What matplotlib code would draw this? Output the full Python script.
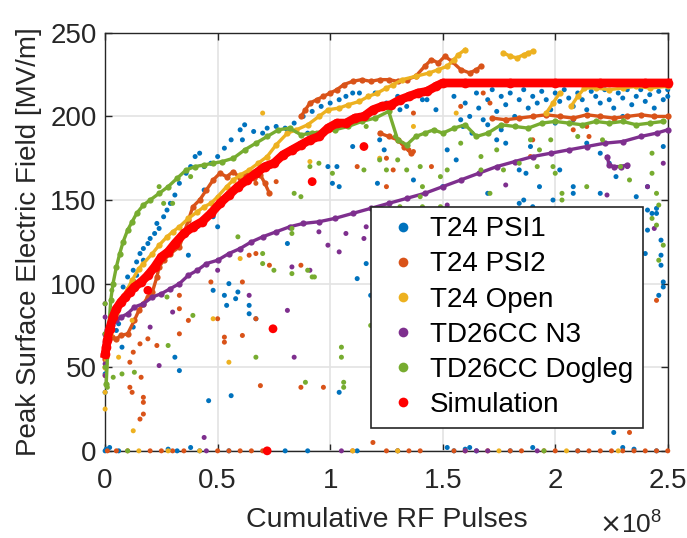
import numpy as np
import matplotlib
matplotlib.use("Agg")
import matplotlib.pyplot as plt
from matplotlib.lines import Line2D
from matplotlib.ticker import FuncFormatter

plt.rcParams['font.family'] = ['Liberation Sans', 'DejaVu Sans']

nan = np.nan

# x values in units of 1e8 pulses, y in MV/m
# --- T24 PSI1 (blue) ---
psi1_x = [0.08, 0.1, 0.125, 0.14, 0.155, 0.17, 0.19, 0.2, 0.22, 0.24, 0.26, 0.275, 0.29, 0.31, 0.33, 0.36, 0.38, 0.4, 0.42, 0.44,
          0.47, 0.5, 0.53, 0.56, 0.6, 0.62, 0.66, 0.7, 0.72, 0.76, 0.8, 0.84, 0.88, 0.92, 0.96, 1.0, 1.04, 1.07, 1.1, 1.13,
          1.17, 1.2,
          0, 0.005, 0.02, 0.06, 0.28, 0.32, 0.38, 0.42, 0.55, 0.8, 0.9, 1.12, 1.3, 1.52, 1.55, 1.6, 1.62, 1.65, 1.8, 1.9,
          2.1, 2.3, 2.35, 2.45, 2.26,
          0, 0, 0.075, 0.06, 0.05, 0.125, 0.31, 0.33, 0.46, 0.56, 0.53, 0.54, 0.55, 0.58, 0.59, 0.64, 0.64, 0.67, 0.81, 1.04,
          1.16, 1.12, 1.18, 0.37, 0.48, 0.5, 0.125, 0.14, 0.17, 0.23, 0.41, 0.44, 0.48, 0.61, 0.99, 1.03, 1.1, 1.22, 1.01, 1.04,
          1.21, 0.9, 0.81,
          2.41, 2.43, 2.45, 2.45, 2.41, 2.47, 2.47, 2.47, 2.48, 2.48, 2.46, 2.4,
          1.89, 2.0, 2.14, 2.24, 2.2, 2.27, 2.02, 1.93, 2.41, 2.36, 2.2, 2.48, 1.9, 2.08, 1.86, 1.87, 1.99, 1.84, 2.08,
          1.52, 1.56, 1.37, 1.5, 1.74, 1.78, 1.84, 1.7, 1.63, 1.59, 1.41, 1.31, 1.24,
          1.25, 1.3, 1.34, 1.38, 1.43, 1.47, 1.55, 1.6, 1.62, 1.65, 1.66, 1.68, 1.7, 1.72, 1.74, 1.76, 1.78, 1.8, 1.82, 1.84,
          1.86, 1.88, 1.9, 1.92, 1.94, 1.96, 1.98, 2.0, 2.02, 2.04, 2.06, 2.08, 2.1, 2.12, 2.14, 2.16, 2.18, 2.2, 2.22, 2.24,
          2.26, 2.28, 2.3, 2.32, 2.34, 2.36, 2.38, 2.4, 2.42, 2.44, 2.46, 2.48, 2.5, 1.7, 1.76, 1.58, 2.08, 2.3, 2.44, 2.5]
psi1_y = [98, 104, 108, 113, 118, 121, 124, 127, 130, 133, 140, 144, 148, 153, 160, 166, 170, 176, 178, 170,
          172, 176, 181, 186, 192, 195, 191, 190, 193, 194, 193, 196, 200, 203, 206, 208, 210, 212, 214, 214,
          212, 214,
          0, 1, 2, 0, 1, 0, 2, 0, 0, 0, 0, 0, 0, 2, 0, 1, 2, 0, 0, 2,
          0, 2, 1, 0, 11,
          46, 35, 62, 76, 72, 74, 56, 48, 30, 33, 93, 87, 100, 91, 95, 87, 82, 79, 124, 35,
          112, 103, 93, 117, 96, 134, 102, 105, 114, 136, 134, 156, 140, 186, 170, 170, 182, 186, 160, 158,
          160, 190, 192,
          144, 142, 142, 145, 132, 126, 117, 111, 101, 98, 93, 118,
          182, 196, 184, 172, 178, 164, 168, 158, 158, 152, 154, 182, 146, 158, 150, 166, 150, 148, 154,
          180, 174, 162, 158, 186, 184, 168, 154, 190, 194, 210, 204, 180,
          208, 212, 206, 214, 210, 204, 212, 208, 200, 214, 205, 198, 210, 216, 203, 212, 207, 214, 200, 210,
          216, 205, 212, 208, 215, 210, 204, 214, 209, 216, 211, 206, 214, 210, 204, 215, 212, 208, 216, 210,
          205, 214, 211, 216, 207, 212, 216, 209, 213, 205, 215, 210, 212, 195, 192, 198, 198, 200, 200, 216]

# --- T24 PSI2 (orange) ---
psi2_track_x = [0, 0.005, 0.01, 0.03, 0.05, 0.07, 0.1, 0.13, 0.15, 0.17, 0.19, 0.21, 0.23, 0.24, 0.26, 0.29, 0.33, 0.35,
                0.37, 0.39, 0.42, 0.45, 0.48, 0.51, 0.54, 0.57, 0.6, 0.63, 0.66, 0.69, 0.71, 0.73, nan,
                0.87, 0.89, 0.91, 0.94, 0.97, 1.0, 1.03, 1.06, 1.1, 1.14, 1.18, 1.22, 1.26, 1.3, 1.34, 1.38, 1.42, 1.45,
                1.48, 1.51, 1.54, 1.58, 1.62, 1.65, 1.67, nan,
                1.22, 1.26, 1.3, 1.33, 1.36, nan,
                1.72, 1.78, 1.84, 1.9, 1.96, 2.02, 2.08, 2.14, 2.2, 2.26, 2.32, 2.38, 2.44, 2.5]
psi2_track_y = [55, 60, 68, 68, 67, 69, 70, 78, 84, 88, 92, 95, 104, 110, 114, 118, 122, 130,
                138, 146, 150, 156, 162, 166, 164, 167, 163, 166, 163, 165, 160, 154, nan,
                200, 204, 208, 210, 212, 214, 216, 219, 221, 222, 221, 222, 222, 221, 222, 224, 230, 234,
                232, 236, 233, 228, 226, 228, 230, nan,
                190, 188, 186, 182, 178, nan,
                199, 198, 199, 200, 201, 200, 199, 201, 200, 199, 200, 201, 200, 200]
psi2_x = [0.11, 0.12, 0.16, 0.17, 0.17, 0.17, 0.155, 0.11, 0.125, 0.155, 0.19, 0.23, 0.33, 0.33, 0.37, 0.33, 0.5, 0.47,
          0.53, 0.53, 0.61, 0.61, 0.67, 0.64, 0.67, 0.73, 0.69, 0.87, 0.97, 0.87, 1.19, 1.25, 0.67, 0.76, 0.94, 1.12,
          1.28, 1.32, 1.35, 1.37, 1.37, 1.58, 1.68, 1.71, 1.78, 1.45, 1.25, 1.9, 2.08, 2.14, 1.89, 2.15, 2.45, 2.33,
          0.01, 0.05, 0.1, 0.2, 0.25, 0.3, 0.35, 0.5, 0.55, 0.6, 0.65, 0.7, 0.72, 1.1, 1.25, 1.3, 1.35, 1.4, 1.55,
          1.6, 1.7, 1.8, 1.85, 1.95, 2.0, 2.1, 2.15, 2.2, 2.25, 2.3, 2.35, 2.4, 2.45, 2.5]
psi2_y = [38, 35, 44, 32, 29, 22, 19, 53, 59, 64, 67, 63, 70, 85, 78, 93, 79, 101,
          68, 65, 69, 101, 118, 117, 79, 111, 39, 38, 38, 111, 5, 175, 160, 161, 190, 170,
          168, 184, 180, 179, 202, 206, 214, 208, 198, 170, 158, 186, 192, 194, 176, 188, 90, 11,
          0, 0, 0, 0, 0, 0, 0, 0, 0, 0, 0, 0, 0, 0, 0, 0, 0, 0, 0,
          0, 0, 0, 0, 0, 0, 0, 0, 0, 0, 0, 0, 0, 0, 0]

# --- T24 Open (yellow) ---
open_track_x = [0, 0.005, 0.01, 0.02, 0.04, 0.05, 0.08, 0.1, 0.12, 0.15, 0.17, 0.21, 0.24, 0.275, 0.3, 0.33, 0.37, 0.41,
                0.44, 0.47, 0.5, 0.54, 0.57, 0.6, 0.64, 0.68, 0.72, 0.76, 0.81, 0.85, 0.9, 0.95, 0.99, 1.04, 1.08,
                1.13, 1.17, 1.21, 1.25, 1.28, 1.32, 1.38, 1.44, 1.48, 1.52, 1.55, 1.57, 1.6, nan,
                1.77, 1.8, 1.83, 1.86, 1.88, 1.9, nan,
                1.96, 1.99, 2.02, nan,
                2.07, 2.1, 2.13, 2.18, 2.24, 2.3, 2.36, 2.42, 2.5]
open_track_y = [50, 56, 62, 70, 78, 82, 92, 97, 102, 109, 112, 118, 123, 128, 131, 134, 139, 143,
                146, 148, 152, 158, 162, 165, 168, 172, 176, 183, 190, 192, 195, 200, 204, 205, 207,
                209, 212, 214, 217, 219, 222, 224, 226, 228, 230, 234, 237, 240, nan,
                238, 236, 235, 237, 238, 239, nan,
                202, 208, 214, nan,
                206, 212, 217, 217, 216, 217, 218, 217, 218]
open_x = [0, 0, 0, 0.005, 0.125, 0.06, 0.55, 0.48, 0.6, 0.12, 0.7, 0.91, 1.22, 1.56, 1.37,
          0.15, 0.28, 0.42, 1.1, 1.3, 1.75, 2.05, 2.28]
open_y = [25, 35, 45, 52, 12, 56, 53, 79, 115, 78, 202, 173, 175, 202, 194,
          0, 0, 0, 0, 0, 0, 0, 0]

# --- TD26CC N3 (purple) ---
n3_track_x = [0, 0.01, 0.03, 0.05, 0.07, 0.1, 0.13, 0.17, 0.21, 0.25, 0.29, 0.33, 0.37, 0.41, 0.45, 0.5, 0.55, 0.6,
              0.65, 0.7, 0.76, 0.82, 0.88, 0.95, 1.02, 1.1, 1.18, 1.26, 1.34, 1.42, 1.5, 1.58, 1.66, 1.74, 1.82,
              1.9, 1.98, 2.06, 2.14, 2.22, 2.3, 2.38, 2.45, 2.5, nan,
              2.23, 2.24, 2.26, 2.29, 2.32]
n3_track_y = [70, 72, 75, 78, 80, 82, 86, 88, 92, 94, 97, 100, 105, 108, 112, 114, 118, 121,
              125, 128, 131, 134, 136, 137, 139, 142, 145, 148, 151, 154, 158, 162, 166, 170, 173,
              176, 178, 180, 182, 184, 185, 188, 190, 192, nan,
              176, 171, 170, 170, 171]
n3_x = [0, 0, 0, 0, 0, 0, 0.005, 0.24, 0.2, 0.3, 0.5, 0.64, 0.84, 0.81, 0.44, 0.95, 0.99, 1.04, 1.07, 1.16, 1.15,
        0.83, 0.91, 1.52, 1.78, 2.23, 2.32, 2.48, 2.41, 2.44,
        0.45, 1.05, 1.6, 1.65, 1.7, 1.92]
n3_y = [45, 52, 58, 65, 80, 88, 62, 51, 74, 83, 108, 93, 56, 84, 8, 131, 123, 119, 130, 134, 127,
        110, 108, 147, 159, 153, 170, 172, 158, 133,
        0, 0, 0, 0, 0, 0]

# --- TD26CC Dogleg (green) ---
dog_track_x = [0.005, 0.015, 0.025, 0.035, 0.05, 0.065, 0.08, 0.1, 0.12, 0.14, 0.17, 0.2, 0.24, 0.28, 0.32, 0.36,
               0.4, 0.44, 0.48, 0.52, 0.57, 0.62, 0.67, 0.72, 0.77, 0.82, 0.87, 0.92, 0.97, 1.02, 1.08, 1.14, 1.2,
               1.26, 1.3, 1.34, 1.38, 1.42, 1.46, 1.5, 1.55, 1.6, 1.65, 1.7, 1.76, 1.82, 1.88, 1.94, 2.0, 2.06,
               2.12, 2.18, 2.24, 2.3, 2.36, 2.42, 2.48]
dog_track_y = [40, 70, 90, 100, 110, 118, 125, 132, 137, 142, 147, 150, 154, 158, 163, 168,
               170, 171, 172, 173, 175, 180, 184, 188, 192, 193, 189, 190, 191, 192, 194, 197, 199,
               203, 186, 183, 188, 190, 192, 190, 193, 195, 188, 190, 195, 194, 193, 196, 197, 196,
               195, 197, 196, 197, 195, 196, 197]
dog_x = [0, 0, 0, 0.01, 0.036, 0.13, 0.075, 0.28, 0.275, 0.39, 0.67, 0.7, 0.7, 0.75, 0.59, 0.83, 0.83, 0.83,
         0.9, 0.92, 0.89, 1.05, 1.05, 1.06, 1.06, 0.93, 1.18, 0.91, 0.95, 1.15, 1.22, 1.29, 1.16, 0.87, 0.84, 1.01,
         0.38, 0.24, 0.26, 0.3, 1.3, 1.25, 1.34, 1.4, 1.49, 1.41, 1.52, 1.31, 1.41, 1.58, 1.67, 1.67, 1.74, 1.77,
         1.84, 1.71, 1.4, 1.49, 1.89, 1.93, 1.98, 1.99, 2.0, 2.03, 2.03, 2.1, 2.14, 2.21, 2.29, 2.33, 2.43, 2.43,
         2.45, 1.92, 2.46, 2.43, 2.45, 2.48, 2.46, 0.03, 0.0, 1.95, 0.1]
dog_y = [70, 62, 50, 38, 44, 47, 46, 63, 92, 81, 56, 118, 112, 108, 128, 130, 133, 106,
         108, 104, 41, 62, 56, 41, 38, 104, 75, 170, 172, 168, 174, 188, 194, 152, 154, 166,
         164, 158, 148, 148, 174, 168, 168, 170, 164, 158, 168, 146, 146, 184, 176, 168, 180, 168,
         172, 154, 152, 146, 186, 180, 186, 170, 166, 154, 150, 188, 158, 186, 170, 162, 178, 166,
         154, 170, 147, 139, 135, 123, 114, 96, 88, 0, 0]

# --- Simulation (red) ---
sim_x = [0, 0.005, 0.01, 0.02, 0.035, 0.05, 0.07, 0.09, 0.11, 0.13, 0.16, 0.19, 0.22, 0.25, 0.28, 0.31, 0.35, 0.39,
         0.43, 0.47, 0.51, 0.55, 0.59, 0.63, 0.67, 0.71, 0.75, 0.79, 0.83, 0.87, 0.91, 0.95, 0.99, 1.03, 1.07, 1.11,
         1.15, 1.19, 1.23, 1.27, 1.31, 1.35, 1.39, 1.43, 1.47, 1.5, 1.6, 1.8, 2.0, 2.2, 2.4, 2.5]
sim_y = [58, 62, 66, 73, 80, 85, 89, 92, 95, 98, 101, 105, 110, 116, 119, 124, 130, 134,
         137, 142, 148, 153, 158, 162, 166, 170, 172, 177, 180, 183, 186, 188, 193, 196, 196, 199,
         200, 204, 206, 207, 210, 212, 214, 215, 218, 220, 220, 220, 220, 220, 220, 220]
sim_out_x = [0.19, 0.746, 0.92, 1.15, 0.72]
sim_out_y = [96, 73, 161, 182, 0]

labels = ['T24 PSI1', 'T24 PSI2', 'T24 Open', 'TD26CC N3', 'TD26CC Dogleg', 'Simulation']
colors = ['#0072BD', '#D95319', '#EDB120', '#7E2F8E', '#77AC30', '#FF0000']

E = 1e8
fig = plt.figure(figsize=(6.87, 5.38), dpi=100)
ax = fig.add_axes([0.153, 0.162, 0.819, 0.777])

def scat(x, y, c):
    ax.scatter(np.array(x) * E, y, s=13, color=c, edgecolors='none', clip_on=False, zorder=3)

def track(x, y, c, lw=2.4, ms=4.5):
    ax.plot(np.array(x) * E, y, '-o', color=c, lw=lw, ms=ms, mec='none', clip_on=False, zorder=3)

scat(psi1_x, psi1_y, colors[0])
track(psi2_track_x, psi2_track_y, colors[1])
scat(psi2_x, psi2_y, colors[1])
track(open_track_x, open_track_y, colors[2])
scat(open_x, open_y, colors[2])
track(n3_track_x, n3_track_y, colors[3])
scat(n3_x, n3_y, colors[3])
track(dog_track_x, dog_track_y, colors[4])
scat(dog_x, dog_y, colors[4])
track(sim_x, sim_y, colors[5], lw=6.3, ms=7)
ax.scatter(np.array(sim_out_x) * E, sim_out_y, s=40, color=colors[5], edgecolors='none', clip_on=False, zorder=4)

ax.set_xlim(0, 2.5e8)
ax.set_ylim(0, 250)
ax.set_xticks(np.arange(0, 2.51e8, 0.5e8))
ax.set_yticks(np.arange(0, 251, 50))
ax.xaxis.set_major_formatter(FuncFormatter(lambda v, p: f'{v / E:g}'))
ax.grid(True, color='#e3e3e3', lw=1.2)
ax.set_axisbelow(True)
ax.tick_params(direction='in', length=5, width=1, labelsize=20, top=True, right=True, colors='#262626')
ax.tick_params(axis='x', pad=12)
ax.tick_params(axis='y', pad=6)
for s in ax.spines.values():
    s.set_color('#262626')
    s.set_linewidth(1)
ax.set_xlabel('Cumulative RF Pulses', fontsize=20.5, color='#262626', labelpad=10)
ax.set_ylabel('Peak Surface Electric Field [MV/m]', fontsize=20, color='#262626', labelpad=6)
ax.annotate(r'$\times\mathdefault{10^{8}}$', xy=(0.99, -0.197), xycoords='axes fraction',
            ha='right', va='baseline', fontsize=19, color='#262626')

handles = [Line2D([], [], ls='none', marker='o', ms=7, color=c, mec='none') for c in colors]
leg = ax.legend(handles, labels, loc='lower right', bbox_to_anchor=(0.956, 0.055), fontsize=20,
                frameon=True, fancybox=False, framealpha=1, edgecolor='#262626', borderaxespad=0,
                handlelength=1.6, handletextpad=0.17, labelspacing=0.33, borderpad=0.35)
leg.get_frame().set_linewidth(1.2)
leg.set_zorder(10)

fig.savefig('out.png', dpi=100)
